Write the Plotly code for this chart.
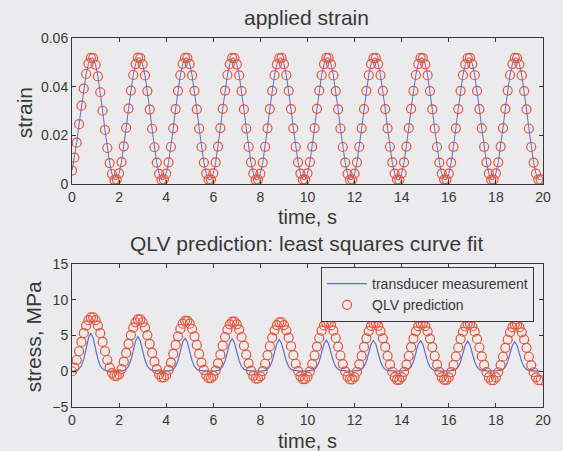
import plotly.graph_objects as go

# Sample times (10 Hz acquisition, 0 - 19.9 s)
time_s = [round(0.1 * i, 1) for i in range(200)]

# Applied strain, one row per 2 s loading cycle
strain = [
    0.0055, 0.0108, 0.0170, 0.0246, 0.0322, 0.0392, 0.0452, 0.0495, 0.0518, 0.0517, 0.0490, 0.0442, 0.0377, 0.0301, 0.0222, 0.0148, 0.0086, 0.0041, 0.0017, 0.0018,
    0.0044, 0.0090, 0.0155, 0.0231, 0.0310, 0.0384, 0.0448, 0.0493, 0.0519, 0.0517, 0.0492, 0.0446, 0.0382, 0.0306, 0.0227, 0.0151, 0.0088, 0.0042, 0.0017, 0.0019,
    0.0043, 0.0089, 0.0153, 0.0229, 0.0308, 0.0383, 0.0447, 0.0494, 0.0518, 0.0518, 0.0493, 0.0446, 0.0383, 0.0307, 0.0228, 0.0152, 0.0088, 0.0043, 0.0018, 0.0018,
    0.0044, 0.0089, 0.0154, 0.0230, 0.0309, 0.0384, 0.0448, 0.0493, 0.0518, 0.0517, 0.0492, 0.0446, 0.0382, 0.0307, 0.0228, 0.0153, 0.0089, 0.0043, 0.0017, 0.0018,
    0.0043, 0.0088, 0.0153, 0.0229, 0.0308, 0.0383, 0.0447, 0.0492, 0.0517, 0.0518, 0.0493, 0.0447, 0.0383, 0.0308, 0.0229, 0.0153, 0.0089, 0.0043, 0.0018, 0.0018,
    0.0044, 0.0090, 0.0154, 0.0230, 0.0309, 0.0384, 0.0447, 0.0493, 0.0518, 0.0518, 0.0492, 0.0446, 0.0382, 0.0307, 0.0228, 0.0152, 0.0088, 0.0042, 0.0017, 0.0018,
    0.0043, 0.0089, 0.0153, 0.0229, 0.0308, 0.0383, 0.0447, 0.0493, 0.0517, 0.0518, 0.0493, 0.0447, 0.0383, 0.0308, 0.0229, 0.0153, 0.0089, 0.0043, 0.0018, 0.0017,
    0.0044, 0.0089, 0.0154, 0.0230, 0.0309, 0.0383, 0.0448, 0.0493, 0.0518, 0.0517, 0.0492, 0.0446, 0.0382, 0.0307, 0.0228, 0.0152, 0.0088, 0.0043, 0.0018, 0.0018,
    0.0043, 0.0088, 0.0153, 0.0229, 0.0308, 0.0383, 0.0447, 0.0492, 0.0517, 0.0518, 0.0493, 0.0447, 0.0383, 0.0308, 0.0229, 0.0153, 0.0089, 0.0043, 0.0017, 0.0018,
    0.0044, 0.0089, 0.0154, 0.0230, 0.0309, 0.0384, 0.0448, 0.0493, 0.0518, 0.0517, 0.0492, 0.0446, 0.0382, 0.0307, 0.0228, 0.0152, 0.0088, 0.0043, 0.0018, 0.0019,
]

# Measured stress from the load transducer, MPa
stress_measured = [
    0.00, 0.06, 0.14, 0.33, 0.77, 1.69, 3.13, 4.64, 5.30, 4.64, 3.13, 1.69, 0.77, 0.33, 0.14, 0.06, 0.03, 0.01, 0.01, 0.01,
    0.03, 0.06, 0.13, 0.30, 0.71, 1.54, 2.86, 4.25, 4.85, 4.25, 2.86, 1.54, 0.71, 0.30, 0.13, 0.06, 0.03, 0.01, 0.01, 0.01,
    0.03, 0.06, 0.12, 0.29, 0.68, 1.48, 2.74, 4.07, 4.65, 4.07, 2.74, 1.48, 0.68, 0.29, 0.12, 0.06, 0.03, 0.01, 0.01, 0.01,
    0.03, 0.05, 0.12, 0.28, 0.66, 1.45, 2.68, 3.99, 4.55, 3.99, 2.68, 1.45, 0.66, 0.28, 0.12, 0.05, 0.03, 0.01, 0.01, 0.01,
    0.02, 0.05, 0.12, 0.28, 0.65, 1.42, 2.63, 3.90, 4.45, 3.90, 2.63, 1.42, 0.65, 0.28, 0.12, 0.05, 0.02, 0.01, 0.01, 0.01,
    0.02, 0.05, 0.11, 0.27, 0.64, 1.38, 2.57, 3.81, 4.35, 3.81, 2.57, 1.38, 0.64, 0.27, 0.11, 0.05, 0.02, 0.01, 0.01, 0.01,
    0.02, 0.05, 0.11, 0.27, 0.63, 1.37, 2.54, 3.77, 4.30, 3.77, 2.54, 1.37, 0.63, 0.27, 0.11, 0.05, 0.02, 0.01, 0.01, 0.01,
    0.02, 0.05, 0.11, 0.27, 0.62, 1.36, 2.53, 3.75, 4.28, 3.75, 2.53, 1.36, 0.62, 0.27, 0.11, 0.05, 0.02, 0.01, 0.01, 0.01,
    0.02, 0.05, 0.11, 0.26, 0.61, 1.34, 2.48, 3.68, 4.20, 3.68, 2.48, 1.34, 0.61, 0.26, 0.11, 0.05, 0.02, 0.01, 0.01, 0.01,
    0.02, 0.05, 0.11, 0.26, 0.60, 1.31, 2.43, 3.61, 4.12, 3.61, 2.43, 1.31, 0.60, 0.26, 0.11, 0.05, 0.02, 0.01, 0.01, 0.01,
]

# Quasi-linear viscoelastic model prediction, MPa
stress_qlv = [
    0.00, 0.52, 1.57, 2.80, 4.10, 5.33, 6.38, 7.15, 7.55, 7.55, 7.15, 6.38, 5.33, 4.10, 2.80, 1.57, 0.52, -0.25, -0.65, -0.65,
    -0.45, 0.30, 1.34, 2.56, 3.84, 5.06, 6.10, 6.85, 7.25, 7.25, 6.85, 6.10, 5.06, 3.84, 2.56, 1.34, 0.30, -0.45, -0.85, -0.85,
    -0.56, 0.19, 1.21, 2.42, 3.68, 4.89, 5.91, 6.66, 7.05, 7.05, 6.66, 5.91, 4.89, 3.68, 2.42, 1.21, 0.19, -0.56, -0.95, -0.95,
    -0.66, 0.09, 1.11, 2.32, 3.58, 4.79, 5.81, 6.56, 6.95, 6.95, 6.56, 5.81, 4.79, 3.58, 2.32, 1.11, 0.09, -0.66, -1.05, -1.05,
    -0.71, 0.03, 1.05, 2.25, 3.50, 4.70, 5.72, 6.46, 6.85, 6.85, 6.46, 5.72, 4.70, 3.50, 2.25, 1.05, 0.03, -0.71, -1.10, -1.10,
    -0.76, -0.02, 1.00, 2.20, 3.45, 4.65, 5.67, 6.41, 6.80, 6.80, 6.41, 5.67, 4.65, 3.45, 2.20, 1.00, -0.02, -0.76, -1.15, -1.15,
    -0.81, -0.07, 0.95, 2.15, 3.40, 4.60, 5.62, 6.36, 6.75, 6.75, 6.36, 5.62, 4.60, 3.40, 2.15, 0.95, -0.07, -0.81, -1.20, -1.20,
    -0.81, -0.08, 0.93, 2.13, 3.37, 4.57, 5.58, 6.31, 6.70, 6.70, 6.31, 5.58, 4.57, 3.37, 2.13, 0.93, -0.08, -0.81, -1.20, -1.20,
    -0.86, -0.13, 0.88, 2.08, 3.32, 4.52, 5.53, 6.26, 6.65, 6.65, 6.26, 5.53, 4.52, 3.32, 2.08, 0.88, -0.13, -0.86, -1.25, -1.25,
    -0.87, -0.14, 0.86, 2.03, 3.27, 4.44, 5.44, 6.17, 6.55, 6.55, 6.17, 5.44, 4.44, 3.27, 2.03, 0.86, -0.14, -0.87, -1.25, -1.25,
]

x_ticks = [0, 2, 4, 6, 8, 10, 12, 14, 16, 18, 20]
strain_ticks = [0, 0.02, 0.04, 0.06]
strain_tick_text = ["0", "0.02", "0.04", "0.06"]
stress_ticks = [-5, 0, 5, 10, 15]

BG = "#ebebed"
INK = "#383838"
BLUE = "#5a6fd0"
RED = "#e5553a"
FONT = "Liberation Sans, Arial, sans-serif"

fig = go.Figure()

# Top panel: applied strain
fig.add_trace(go.Scatter(x=time_s, y=strain, mode="lines",
                         line=dict(color=BLUE, width=1), showlegend=False,
                         xaxis="x", yaxis="y"))
fig.add_trace(go.Scatter(x=time_s, y=strain, mode="markers",
                         marker=dict(symbol="circle-open", size=9, color=RED,
                                     line=dict(width=1.2, color=RED)),
                         showlegend=False, xaxis="x", yaxis="y"))

# Bottom panel: measured vs predicted stress
fig.add_trace(go.Scatter(x=time_s, y=stress_measured, mode="lines",
                         name="transducer measurement",
                         line=dict(color=BLUE, width=1.2),
                         xaxis="x2", yaxis="y2"))
fig.add_trace(go.Scatter(x=time_s, y=stress_qlv, mode="markers",
                         name="QLV prediction",
                         marker=dict(symbol="circle-open", size=9, color=RED,
                                     line=dict(width=1.2, color=RED)),
                         xaxis="x2", yaxis="y2"))

axis_common = dict(
    showline=True, linecolor=INK, linewidth=1, mirror="ticks",
    ticks="inside", ticklen=4, tickcolor=INK, tickwidth=1,
    showgrid=False, zeroline=False,
    tickfont=dict(family=FONT, size=14, color=INK),
)

W, H = 563, 451
L, R, T, B = 72, 17, 38, 44
plot_h = H - T - B


def ypaper(py):
    return (H - B - py) / plot_h


def xpaper(px):
    return (px - L) / (W - L - R)


fig.update_layout(
    width=W, height=H,
    margin=dict(l=L, r=R, t=T, b=B),
    paper_bgcolor=BG, plot_bgcolor=BG,
    font=dict(family=FONT, color=INK),
    xaxis=dict(domain=[0, 1], range=[0, 20], tickvals=x_ticks, anchor="y", **axis_common),
    yaxis=dict(domain=[ypaper(184), 1], range=[0, 0.06], tickvals=strain_ticks,
               ticktext=strain_tick_text, anchor="x", **axis_common),
    xaxis2=dict(domain=[0, 1], range=[0, 20], tickvals=x_ticks, anchor="y2", **axis_common),
    yaxis2=dict(domain=[0, ypaper(264)], range=[-5, 15], tickvals=stress_ticks,
                anchor="x2", **axis_common),
    legend=dict(x=xpaper(537), y=ypaper(267), xanchor="right", yanchor="top",
                bgcolor=BG, bordercolor=INK, borderwidth=1,
                font=dict(family=FONT, size=14, color=INK),
                tracegroupgap=0, itemwidth=40),
    showlegend=True,
)

labels = [
    ("applied strain", xpaper(308), ypaper(17), 0, 21),
    ("time, s", xpaper(309), ypaper(217), 0, 20),
    ("strain", xpaper(24), ypaper(113), -90, 21),
    ("QLV prediction: least squares curve fit", xpaper(308), ypaper(244), 0, 21),
    ("time, s", xpaper(309), ypaper(441), 0, 20),
    ("stress, MPa", xpaper(33), ypaper(337), -90, 21),
]
for text, x, y, ang, size in labels:
    fig.add_annotation(text=text, x=x, y=y, xref="paper", yref="paper",
                       xanchor="center", yanchor="middle", showarrow=False,
                       textangle=ang, font=dict(family=FONT, size=size, color=INK))

fig.write_html("out.html")
